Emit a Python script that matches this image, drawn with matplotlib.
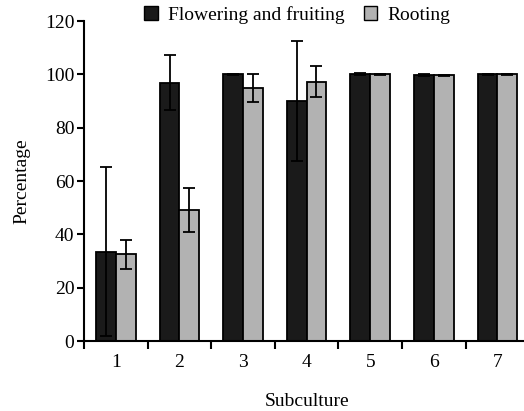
import matplotlib
matplotlib.use("Agg")
import matplotlib.pyplot as plt
import numpy as np
from matplotlib.patches import Patch

categories = ["1", "2", "3", "4", "5", "6", "7"]
flowering = [33.5, 96.9, 100.0, 90.1, 100.0, 99.7, 100.0]
flowering_err = [31.7, 10.4, 0.3, 22.5, 0.4, 0.4, 0.3]
rooting = [32.5, 49.0, 95.0, 97.2, 100.0, 99.6, 100.0]
rooting_err = [5.4, 8.2, 5.2, 5.8, 0.2, 0.2, 0.2]
yticks = [0, 20, 40, 60, 80, 100, 120]

plt.rcParams['font.family'] = ['Liberation Serif', 'DejaVu Serif']

fig = plt.figure(figsize=(5.24, 4.11), dpi=100)
ax = fig.add_axes([84/524, 1-341/411, 445.2/524, 320/411])

x = np.arange(len(categories)) + 0.5
w = 0.31
ekw = dict(ecolor='black', elinewidth=1.3, capsize=4, capthick=1.3)
ax.bar(x - w/2, flowering, w, color='#1a1a1a', edgecolor='black', linewidth=1.3,
       yerr=flowering_err, error_kw=ekw, zorder=2)
ax.bar(x + w/2, rooting, w, color='#b2b2b2', edgecolor='black', linewidth=1.3,
       yerr=rooting_err, error_kw=ekw, zorder=2)

ax.set_xlim(0, len(categories))
ax.set_ylim(0, 120)
ax.set_yticks(yticks)
ax.set_xticks(np.arange(len(categories) + 1))
ax.set_xticklabels([])
ax.set_xticks(x, minor=True)
ax.set_xticklabels(categories, minor=True)
ax.tick_params(axis='x', which='major', direction='out', length=6, width=1.5)
ax.tick_params(axis='x', which='minor', length=0, pad=9, labelsize=14)
ax.tick_params(axis='y', direction='out', length=5, width=1.5, labelsize=14, pad=2)
for s in ['top', 'right']:
    ax.spines[s].set_visible(False)
for s in ['left', 'bottom']:
    ax.spines[s].set_linewidth(1.5)

ax.set_ylabel('Percentage', fontsize=14, labelpad=10)
ax.set_xlabel('Subculture', fontsize=14, labelpad=16)

handles = [Patch(facecolor='#1a1a1a', edgecolor='black', linewidth=1.0, label='Flowering and fruiting'),
           Patch(facecolor='#b2b2b2', edgecolor='black', linewidth=1.0, label='Rooting')]
fig.legend(handles=handles, loc='center', bbox_to_anchor=(297/524, 1-15/411), ncol=2,
           frameon=False, fontsize=14, handlelength=0.7, handleheight=0.7,
           handletextpad=0.5, columnspacing=1.0)

fig.savefig('out.png', dpi=100)
